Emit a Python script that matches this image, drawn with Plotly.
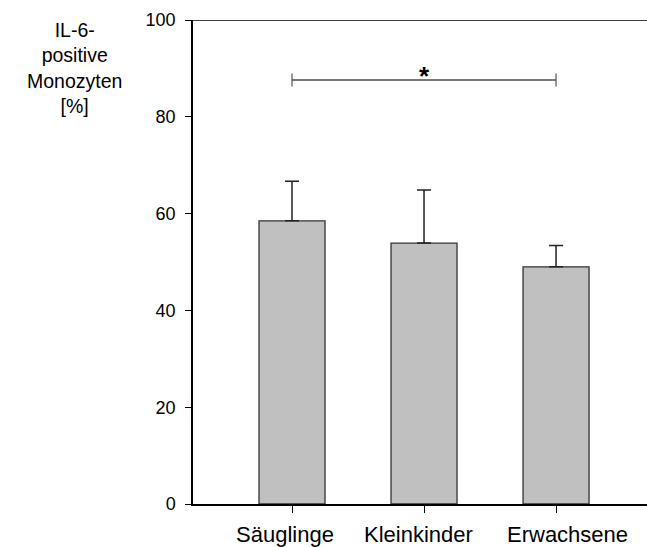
import plotly.graph_objects as go

categories = ["Säuglinge", "Kleinkinder", "Erwachsene"]
means = [58.5, 53.9, 49.0]
sd_upper = [8.2, 11.0, 4.4]
y_ticks = [0, 20, 40, 60, 80, 100]
sig_level = 87.6
sig_text = "*"
y_title = "IL-6-<br>positive<br>Monozyten<br>[%]"

xpos = list(range(len(categories)))
FONT = "Arial, Liberation Sans, sans-serif"

fig = go.Figure()
fig.add_trace(go.Bar(
    x=xpos, y=means, width=0.5,
    marker=dict(color="#c0c0c0", line=dict(color="#333333", width=1.3)),
    error_y=dict(type="data", array=sd_upper, arrayminus=[0]*len(means), symmetric=False,
                 color="#222222", thickness=1.5, width=7),
    showlegend=False, hoverinfo="skip",
))

fig.update_layout(
    width=647, height=547,
    margin=dict(l=193, r=0, t=20, b=43),
    plot_bgcolor="white", paper_bgcolor="white",
    font=dict(family=FONT, color="black"),
    xaxis=dict(range=[-0.75, 2.689], tickvals=xpos, ticktext=[""]*len(xpos),
               showgrid=False, zeroline=False, showline=True, linecolor="black", linewidth=1.5,
               ticks="outside", ticklen=7, tickwidth=1.3, tickcolor="black"),
    yaxis=dict(range=[0, 100], tickvals=y_ticks, showgrid=False, zeroline=False,
               showline=True, linecolor="black", linewidth=1.5,
               ticks="outside", ticklen=6, tickwidth=1.3, tickcolor="black",
               tickfont=dict(size=18, family=FONT, color="black"), ticklabelstandoff=6),
)

# top border line
fig.add_shape(type="line", xref="paper", yref="y", x0=-0.0132, x1=1, y0=100, y1=100,
              line=dict(color="black", width=1.5))

# significance bracket
fig.add_shape(type="line", xref="x", yref="y", x0=xpos[0], x1=xpos[-1], y0=sig_level, y1=sig_level,
              line=dict(color="#777777", width=1.8))
for xe in (xpos[0], xpos[-1]):
    fig.add_shape(type="line", xref="x", yref="y", x0=xe, x1=xe, y0=sig_level - 1.35, y1=sig_level + 1.35,
                  line=dict(color="#555555", width=1.2))
fig.add_annotation(x=(xpos[0] + xpos[-1]) / 2, y=sig_level, xref="x", yref="y", text=sig_text,
                   showarrow=False, yanchor="bottom", yshift=-13,
                   font=dict(size=26, family=FONT, color="black", weight="bold"))

# category labels
shifts = [-7, -6, 11]
for xi, lab, sh in zip(xpos, categories, shifts):
    fig.add_annotation(x=xi, y=0, xref="x", yref="paper", text=lab, showarrow=False,
                       yanchor="top", yshift=-16, xshift=sh,
                       font=dict(size=22, family=FONT, color="black"))

# y title
fig.add_annotation(x=-0.2620, y=0.9008, xref="paper", yref="paper", text=y_title, showarrow=False,
                   xanchor="center", yanchor="middle", align="center",
                   font=dict(size=19.5, family=FONT, color="black"))

fig.write_html("out.html")
